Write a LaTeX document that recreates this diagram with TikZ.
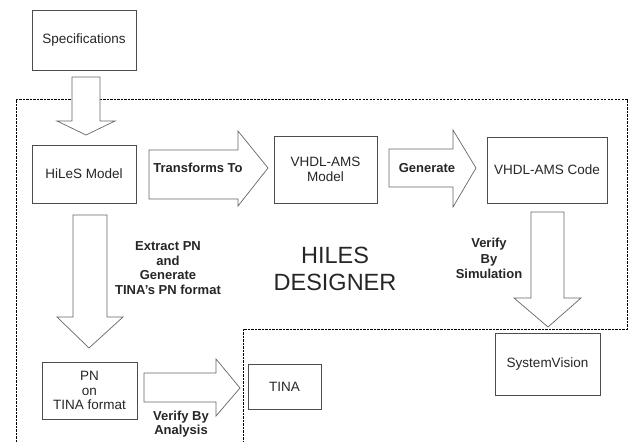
\documentclass[tikz,border=0pt]{standalone}
\usepackage{fontspec}
\setmainfont{Liberation Sans}
\begin{document}
\begin{tikzpicture}[x=1pt,y=-1pt,
  box/.style={draw=black!70,line width=0.8pt,fill=white,inner sep=0pt},
  blk/.style={draw=black!60,line width=0.7pt,fill=white,line join=miter},
  txt/.style={font=\fontsize{13.5}{15}\selectfont,text=black!85,align=center,inner sep=0pt},
  lbl/.style={font=\fontsize{13}{14.5}\selectfont\bfseries,text=black!85,align=center,inner sep=0pt},
  region/.style={draw=black,line width=0.6pt,dash pattern=on 2.2pt off 1.3pt}]
\useasboundingbox (0,0) rectangle (632,442);
% dashed designer region
\draw[region] (16,442) -- (16,99) -- (627,99) -- (627,329) -- (243,329) -- (243,442);
% boxes
\node[box,minimum width=104pt,minimum height=60pt] (spec) at (84,40) {};
\node[txt] at (spec.center) {Specifications};
\node[box,minimum width=104pt,minimum height=58pt] (hiles) at (84,174) {};
\node[txt] at (hiles.center) {HiLeS Model};
\node[box,minimum width=103pt,minimum height=67pt] (vmodel) at (325.5,169.5) {};
\node[txt] at (vmodel.center) {VHDL-AMS\\Model};
\node[box,minimum width=120pt,minimum height=66pt] (vcode) at (547,170) {};
\node[txt] at (vcode.center) {VHDL-AMS Code};
\node[box,minimum width=105pt,minimum height=62pt] (sysv) at (547.5,364) {};
\node[txt] at (sysv.center) {SystemVision};
\node[box,minimum width=73pt,minimum height=45pt] (tina) at (284.5,386.5) {};
\node[txt] at (tina.center) {TINA};
\node[box,minimum width=95pt,minimum height=57pt] (pn) at (89.5,390.5) {};
\node[txt,font=\fontsize{13.5}{14.5}\selectfont] at (pn.center) {PN\\on\\TINA format};
% block arrows
\draw[blk] (72,77) -- (100,77) -- (100,121) -- (115,121) -- (86,135) -- (57,121) -- (72,121) -- cycle;
\draw[blk] (149,150) -- (238,150) -- (238,131) -- (268,168) -- (238,206) -- (238,199) -- (149,199) -- cycle;
\draw[blk] (389,149) -- (453,149) -- (453,130) -- (476,168) -- (453,207) -- (453,187) -- (389,187) -- cycle;
\draw[blk] (531,212) -- (564,212) -- (564,298) -- (581,298) -- (548,327) -- (514,298) -- (531,298) -- cycle;
\draw[blk] (73,215) -- (107,215) -- (107,317) -- (123,317) -- (89,348) -- (57,317) -- (73,317) -- cycle;
\draw[blk] (144,373) -- (216,373) -- (216,359) -- (240,388) -- (216,416) -- (216,402) -- (144,402) -- cycle;
% labels
\node[lbl] (ltr) at (198,168) {Transforms To};
\node[lbl] (lgen) at (427,168) {Generate};
\node[lbl,font=\fontsize{13}{14.5}\selectfont\bfseries] (lext) at (168,268) {Extract PN\\and\\Generate\\TINA's PN format};
\node[lbl,font=\fontsize{13}{15.5}\selectfont\bfseries] (lsim) at (489,258.5) {Verify\\By\\Simulation};
\node[lbl,font=\fontsize{13}{14}\selectfont\bfseries] (lana) at (181,424) {Verify By\\Analysis};
\node[txt,font=\fontsize{23.5}{27}\selectfont] (des) at (335,268.5) {HILES\\DESIGNER};
\end{tikzpicture}
\end{document}
